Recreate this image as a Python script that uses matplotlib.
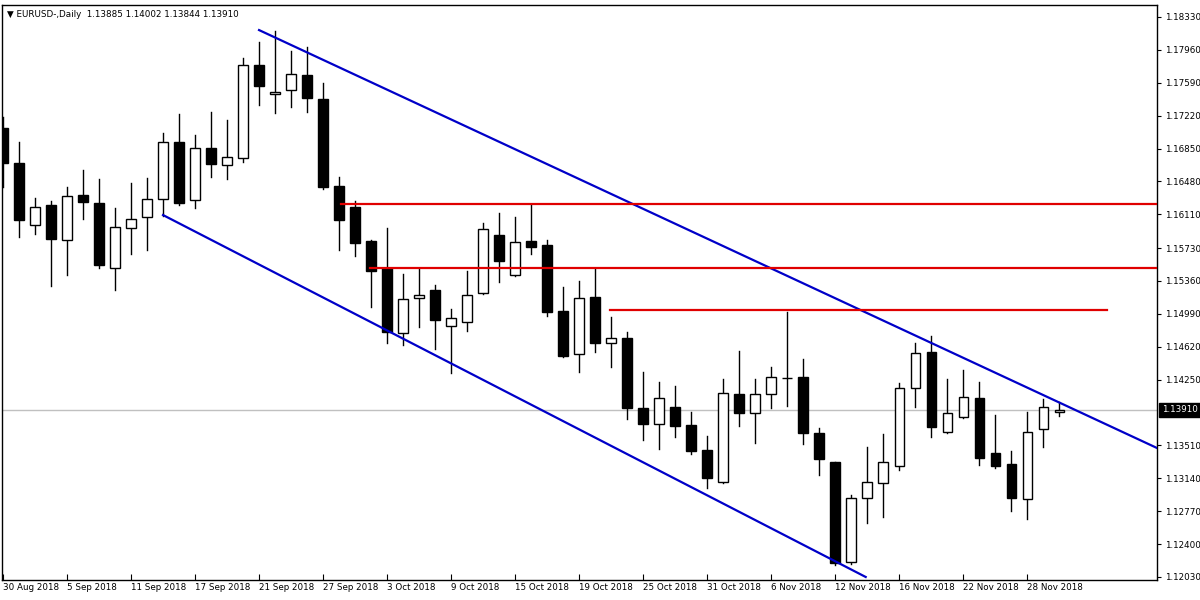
import matplotlib
matplotlib.use("Agg")
import matplotlib.pyplot as plt
from matplotlib.patches import Rectangle

dates = ["30 Aug 2018", "5 Sep 2018", "11 Sep 2018", "17 Sep 2018", "21 Sep 2018", "27 Sep 2018",
         "3 Oct 2018", "9 Oct 2018", "15 Oct 2018", "19 Oct 2018", "25 Oct 2018", "31 Oct 2018",
         "6 Nov 2018", "12 Nov 2018", "16 Nov 2018", "22 Nov 2018", "28 Nov 2018"]

opens = [1.17081,1.16687,1.15990,1.16215,1.15821,1.16327,1.16237,1.15506,1.15956,1.16080,
         1.16282,1.16923,1.16271,1.16856,1.16665,1.16743,1.17790,1.17464,1.17509,1.17677,
         1.17407,1.16428,1.16192,1.15810,1.15506,1.14775,1.15169,1.15259,1.14853,1.14898,
         1.15225,1.15877,1.15427,1.15810,1.15765,1.15022,1.14538,1.15180,1.14662,1.14718,
         1.13931,1.13751,1.13942,1.13740,1.13458,1.13098,1.14088,1.13875,1.14088,1.14268,
         1.14280,1.13650,1.13323,1.12199,1.12918,1.13087,1.13278,1.14156,1.14561,1.13661,
         1.13830,1.14043,1.13425,1.13301,1.12907,1.13695,1.13885]
highs = [1.17205,1.16923,1.16293,1.16260,1.16417,1.16608,1.16507,1.16181,1.16462,1.16518,
         1.17025,1.17238,1.17002,1.17261,1.17171,1.17868,1.18048,1.18172,1.17947,1.17992,
         1.17587,1.16530,1.16260,1.15821,1.15956,1.15438,1.15506,1.15315,1.15045,1.15473,
         1.16012,1.16125,1.16080,1.16215,1.15821,1.15292,1.15360,1.15506,1.14955,1.14786,
         1.14336,1.14223,1.14178,1.13886,1.13616,1.14257,1.14572,1.14257,1.14392,1.15011,
         1.14482,1.13706,1.13323,1.12952,1.13492,1.13638,1.14212,1.14662,1.14741,1.14257,
         1.14358,1.14223,1.13852,1.13447,1.13886,1.14032,1.14002]
lows = [1.16417,1.15855,1.15888,1.15303,1.15427,1.16057,1.15506,1.15259,1.15664,1.15709,
        1.16091,1.16215,1.16181,1.16530,1.16507,1.16698,1.17340,1.17250,1.17317,1.17261,
        1.16395,1.15709,1.15641,1.15067,1.14662,1.14640,1.14842,1.14595,1.14325,1.14797,
        1.15214,1.15349,1.15415,1.15664,1.14966,1.14505,1.14336,1.14561,1.14392,1.13807,
        1.13571,1.13470,1.13605,1.13413,1.13031,1.13087,1.13728,1.13537,1.13931,1.13953,
        1.13526,1.13177,1.12165,1.12176,1.12637,1.12705,1.13233,1.13942,1.13605,1.13650,
        1.13820,1.13290,1.13256,1.12772,1.12682,1.13492,1.13844]
closes = [1.16687,1.16046,1.16192,1.15832,1.16316,1.16248,1.15540,1.15967,1.16057,1.16282,
          1.16923,1.16237,1.16856,1.16676,1.16755,1.17790,1.17554,1.17486,1.17689,1.17419,
          1.16417,1.16046,1.15787,1.15473,1.14786,1.15157,1.15202,1.14921,1.14943,1.15202,
          1.15945,1.15585,1.15799,1.15742,1.15011,1.14516,1.15169,1.14662,1.14718,1.13931,
          1.13751,1.14043,1.13728,1.13447,1.13143,1.14100,1.13875,1.14088,1.14280,1.14268,
          1.13650,1.13357,1.12187,1.12918,1.13098,1.13323,1.14156,1.14550,1.13717,1.13875,
          1.14055,1.13368,1.13278,1.12918,1.13661,1.13942,1.13910]

price_ticks = [1.18330,1.17960,1.17590,1.17220,1.16850,1.16480,1.16110,1.15730,1.15360,
               1.14990,1.14620,1.14250,1.13510,1.13140,1.12770,1.12400,1.12030]
last_price = 1.13910

# trend channel (bar index, price) and horizontal levels (start bar, end bar, price)
upper_line = [(16.0, 1.18183), (72.1, 1.13481)]
lower_line = [(10.0, 1.16102), (53.9, 1.12030)]
levels = [(21.1, 72.2, 1.16226), (22.9, 72.2, 1.15506), (37.9, 69.0, 1.15034)]

FS = 6.3
fig = plt.figure(figsize=(12, 6), dpi=100)
ax = fig.add_axes([2/1200, 20/600, 1155/1200, 575/600])
ax.set_xlim(-0.06, 72.1)
ax.set_ylim(1.11996, 1.18465)

ax.axhline(last_price, color="#c0c0c0", lw=1, zorder=1)

w = 0.6
for i, (o, h, l, c) in enumerate(zip(opens, highs, lows, closes)):
    ax.plot([i, i], [l, h], color="black", lw=1, zorder=3)
    bull = c >= o
    bottom = min(o, c)
    height = max(abs(c - o), 0.00002)
    ax.add_patch(Rectangle((i - w/2, bottom), w, height,
                           facecolor="white" if bull else "black",
                           edgecolor="black", lw=1, zorder=4))

for (x0, y0), (x1, y1) in [upper_line, lower_line]:
    ax.plot([x0, x1], [y0, y1], color="#0000c8", lw=1.6, zorder=5, clip_on=True)
for x0, x1, y in levels:
    ax.plot([x0, x1], [y, y], color="#e00000", lw=1.6, zorder=5)

ax.yaxis.tick_right()
ax.set_yticks(price_ticks)
ax.set_yticklabels([f"{p:.5f}" for p in price_ticks], fontsize=FS)
ax.tick_params(axis="y", length=3, pad=3)
ax.set_xticks([4*k for k in range(len(dates))])
ax.set_xticklabels(dates, fontsize=FS, ha="left")
ax.tick_params(axis="x", length=4, pad=2, direction="in")
for s in ax.spines.values():
    s.set_linewidth(1)

ax.text(1.004, last_price, f"{last_price:.5f}", transform=ax.get_yaxis_transform(),
        fontsize=FS, color="white", va="center", ha="left",
        bbox=dict(boxstyle="square,pad=0.3", facecolor="black", edgecolor="black"))

ax.text(0.004, 0.992, "\u25bc EURUSD-,Daily  1.13885 1.14002 1.13844 1.13910",
        transform=ax.transAxes, fontsize=FS, va="top", ha="left")

fig.savefig("out.png", dpi=100)
